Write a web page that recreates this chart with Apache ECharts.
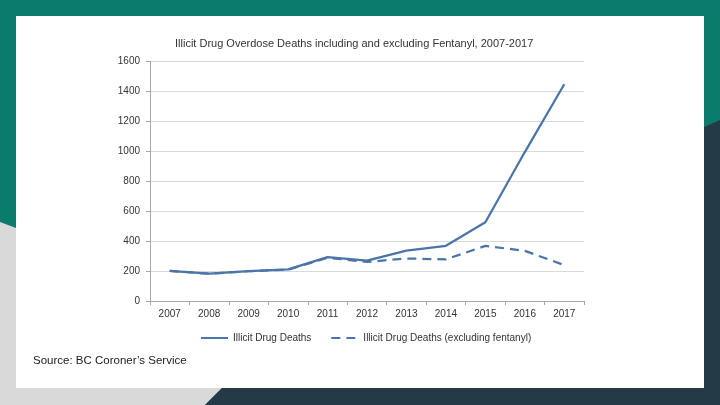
<!DOCTYPE html>
<html><head><meta charset="utf-8">
<script src="https://cdn.jsdelivr.net/npm/echarts@6/dist/echarts.min.js"></script>
<style>html,body{margin:0;padding:0;}#c{width:720px;height:405px;}</style>
</head><body><div id="c"></div>
<script>
const titleText = 'Illicit Drug Overdose Deaths including and excluding Fentanyl, 2007-2017';
const sourceText = 'Source: BC Coroner’s Service';
const years = ['2007','2008','2009','2010','2011','2012','2013','2014','2015','2016','2017'];
const seriesNames = ['Illicit Drug Deaths', 'Illicit Drug Deaths (excluding fentanyl)'];
const totalDeaths = [202, 183, 200, 211, 293, 270, 336, 369, 526, 995, 1448];
const exclFentanyl = [201, 182, 199, 209, 289, 261, 284, 278, 368, 335, 240];
const yTicks = {min: 0, max: 1600, interval: 200};

const FONT = 'Liberation Sans';
const lineColor = '#4a74aa';
const chart = echarts.init(document.getElementById('c'));
chart.setOption({
  backgroundColor: '#0b7b6e',
  animation: false,
  title: {
    text: titleText, left: 170, top: 33,
    textStyle: {fontFamily: FONT, fontSize: 11, fontWeight: 'normal', color: '#333'}
  },
  graphic: [
    {type: 'polygon', z: -10, silent: true, shape: {points: [[0,222],[16,228],[16,388],[222,388],[205,405],[0,405]]}, style: {fill: '#d9d9d9'}},
    {type: 'polygon', z: -10, silent: true, shape: {points: [[205,405],[222,388],[704,388],[704,127],[720,120],[720,405]]}, style: {fill: '#243a47'}},
    {type: 'rect', z: -9, silent: true, shape: {x: 16, y: 16, width: 688, height: 372}, style: {fill: '#ffffff'}},
    {type: 'text', z: 5, left: 33, top: 355, style: {text: sourceText, font: '11.5px "Liberation Sans"', fill: '#222'}}
  ],
  legend: {
    left: 195, top: 328, itemWidth: 27, itemHeight: 10, itemGap: 19,
    itemStyle: {opacity: 0},
    textStyle: {fontFamily: FONT, fontSize: 10, color: '#333'},
    data: seriesNames
  },
  grid: {left: 150, right: 136, top: 61.5, bottom: 104, containLabel: false},
  xAxis: {
    type: 'category', data: years, boundaryGap: true,
    axisLine: {lineStyle: {color: '#a6a6a6', width: 1}},
    axisTick: {show: true, length: 4, lineStyle: {color: '#a6a6a6'}},
    axisLabel: {fontFamily: FONT, fontSize: 10, color: '#333', margin: 8},
    splitLine: {show: false}
  },
  yAxis: {
    type: 'value', min: yTicks.min, max: yTicks.max, interval: yTicks.interval,
    axisLine: {show: true, lineStyle: {color: '#a6a6a6', width: 1}},
    axisTick: {show: true, length: 4, lineStyle: {color: '#a6a6a6'}},
    axisLabel: {fontFamily: FONT, fontSize: 10, color: '#333', margin: 10, formatter: v => String(v)},
    splitLine: {lineStyle: {color: '#d9d9d9', width: 1}}
  },
  series: [
    {name: seriesNames[0], type: 'line', data: totalDeaths, symbol: 'none', z: 3,
     lineStyle: {color: lineColor, width: 2.25}, itemStyle: {color: lineColor}},
    {name: seriesNames[1], type: 'line', data: exclFentanyl, symbol: 'none', z: 2,
     lineStyle: {color: lineColor, width: 2.25, type: [9, 6]}, itemStyle: {color: lineColor}}
  ]
});
</script></body></html>
